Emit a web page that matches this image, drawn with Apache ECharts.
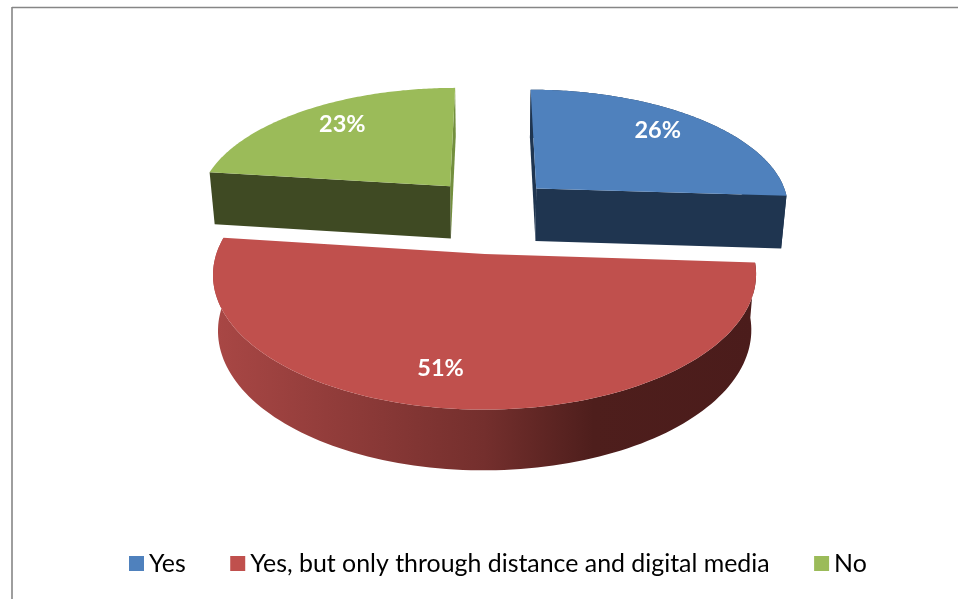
<!DOCTYPE html>
<html>
<head>
<meta charset="utf-8">
<style>html,body{margin:0;padding:0;background:#fff}#c{width:958px;height:599px}</style>
<script src="https://cdn.jsdelivr.net/npm/echarts@6/dist/echarts.min.js"></script>
</head>
<body>
<div id="c"></div>
<script>
const categories = ['Yes', 'Yes, but only through distance and digital media', 'No'];
const values = [26, 51, 23];

const topColors = ['#4f81bd', '#c0504d', '#9bbb59'];
const sideColors = ['#1f3550', {type:'linear',x:0,y:0,x2:1,y2:0,colorStops:[
  {offset:0,color:'#a94745'},{offset:0.5,color:'#742f2d'},{offset:0.7,color:'#4e1e1c'},{offset:1,color:'#4b1c1b'}]}, '#3f4a23'];
const startWallColors = ['#1f3550', null, '#3f4a23'];
const endWallColors = ['#1f3550', null, '#738f3e'];
const outerVisible = [1, 1, 0];
const labelNudge = [[-2, -4], [-22, 3], [3, -3]];

// projection of the tilted pie
const Xc = 491, Yc = 214, A = 256, B = 120, K = 0.145, H = 53.5, KH = 0.09, SHRINK = 0.018;
const EX = 0.25, EY = 0.32;
function project(u, v, z) {
  const w = 1 - K * v;
  return [Xc + A * u / w * (1 - SHRINK * z), Yc + B * v / w + H * z / (1 - KH * v)];
}
function rad(pct) { return pct / 100 * 2 * Math.PI; }

function slicePoints(start, val) {
  const mid = rad(start + val / 2);
  const ox = Math.sin(mid) * EX, oy = -Math.cos(mid) * EY;
  const at = (r, a, z) => project(ox + r * Math.sin(a), oy - r * Math.cos(a), z);
  return { at, a0: rad(start), a1: rad(start + val), mid };
}
function arc(s, z, reverse) {
  const pts = [], n = 120;
  for (let i = 0; i <= n; i++) {
    const a = s.a0 + (s.a1 - s.a0) * i / n;
    pts.push(s.at(1, a, z));
  }
  return reverse ? pts.reverse() : pts;
}

function renderSlice(idx) {
  return function (params, api) {
    const start = api.value(0), val = api.value(1);
    const s = slicePoints(start, val);
    const children = [];
    const poly = (points, fill) => children.push({ type: 'polygon', shape: { points }, style: { fill, stroke: null } });
    const radial = a => [s.at(0, a, 0), s.at(1, a, 0), s.at(1, a, 1), s.at(0, a, 1)];
    if (endWallColors[idx] && idx === 2) poly(radial(s.a1), endWallColors[idx]);
    if (startWallColors[idx] && idx === 0) poly(radial(s.a0), startWallColors[idx]);
    if (outerVisible[idx]) poly(arc(s, 0).concat(arc(s, 1, true)), sideColors[idx]);
    if (startWallColors[idx] && idx === 2) poly(radial(s.a0), startWallColors[idx]);
    if (endWallColors[idx] && idx === 0) poly(radial(s.a1), endWallColors[idx]);
    poly([s.at(0, 0, 0)].concat(arc(s, 0)), topColors[idx]);
    const p = s.at(0.75, s.mid, 0);
    children.push({
      type: 'text',
      style: {
        text: val + '%', x: p[0] + labelNudge[idx][0], y: p[1] + labelNudge[idx][1],
        fill: '#fff', font: 'bold 23.5px Lato', align: 'center', verticalAlign: 'middle'
      }
    });
    return { type: 'group', children };
  };
}

let acc = 0;
const series = categories.map((name, i) => {
  const item = [acc, values[i]];
  acc += values[i];
  return {
    type: 'custom', name, coordinateSystem: 'none', silent: true,
    itemStyle: { color: topColors[i] },
    data: [item], renderItem: renderSlice(i)
  };
});

const chart = echarts.init(document.getElementById('c'), null, { renderer: 'canvas' });
chart.setOption({
  animation: false,
  backgroundColor: '#fff',
  legend: {
    left: 129, top: 551, padding: 0, itemWidth: 15, itemHeight: 15, itemGap: 44.5,
    icon: 'rect', selectedMode: false,
    textStyle: { fontFamily: 'Lato', fontSize: 24.9, color: '#000' },
    data: categories
  },
  graphic: [
    { type: 'line', shape: { x1: 12, y1: 7.5, x2: 958, y2: 7.5 }, style: { stroke: '#868686', lineWidth: 1.3 } },
    { type: 'line', shape: { x1: 12, y1: 7, x2: 12, y2: 599 }, style: { stroke: '#868686', lineWidth: 1.6 } }
  ],
  series
});
</script>
</body>
</html>
